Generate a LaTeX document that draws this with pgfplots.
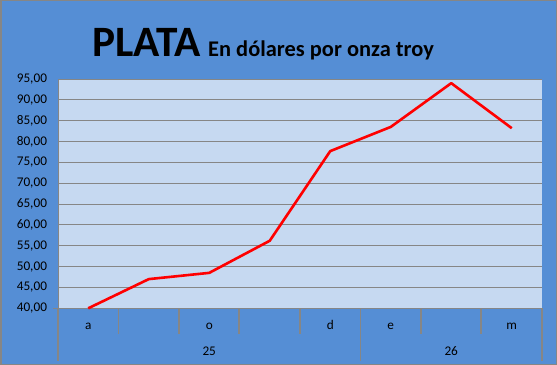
\documentclass[border=0pt]{standalone}
\usepackage{pgfplots}
\pgfplotsset{compat=1.18}
\usepackage{fontspec}
\setmainfont{Carlito}
\definecolor{bgblue}{RGB}{85,142,213}
\definecolor{plotblue}{RGB}{198,217,241}
\definecolor{gridgray}{RGB}{134,134,134}
\begin{document}
\begin{tikzpicture}
\fill[bgblue] (0,0) rectangle (557bp,365bp);
\draw[gridgray, line width=1.5bp] (0.75bp,0.75bp) rectangle (556.25bp,364.25bp);
\begin{axis}[
  at={(58bp,56.7bp)}, anchor=south west,
  scale only axis, width=484bp, height=229.3bp,
  xmin=-0.5, xmax=7.5, ymin=40, ymax=95,
  ytick={40,45,...,95},
  xtick={0,...,7},
  xticklabels={a,,o,,d,e,,m},
  major tick length=0pt,
  axis background/.style={fill=plotblue},
  ymajorgrids,
  grid style={gridgray, line width=0.9bp},
  axis line style={draw=none},
  clip=false,
  tick label style={font=\fontsize{13.3}{13.3}\selectfont, text=black},
  yticklabel style={xshift=-7.5bp, /pgf/number format/.cd, fixed, fixed zerofill, precision=2, use comma, assume math mode=true},
  xticklabel style={anchor=base, yshift=-21bp},
]
\draw[gridgray, line width=0.9bp] (axis cs:-0.5,40) -- (axis cs:-0.5,95);
\draw[gridgray, line width=0.9bp] (axis cs:-0.5,40) -- ++(-5bp,0bp);
\draw[gridgray, line width=1.2bp] (axis cs:0.5,40) -- (axis cs:0.5,33.75);
\draw[gridgray, line width=1.2bp] (axis cs:1.5,40) -- (axis cs:1.5,33.75);
\draw[gridgray, line width=1.5bp] (axis cs:2.49,40) -- (axis cs:2.49,33.75);
\draw[gridgray, line width=1.2bp] (axis cs:3.5,40) -- (axis cs:3.5,33.75);
\draw[gridgray, line width=1.2bp] (axis cs:5.5,40) -- (axis cs:5.5,33.75);
\draw[gridgray, line width=1.5bp] (axis cs:6.49,40) -- (axis cs:6.49,33.75);
\draw[gridgray, line width=1.2bp] (axis cs:-0.5,40) -- (axis cs:-0.5,27.3);
\draw[gridgray, line width=1.2bp] (axis cs:4.5,40) -- (axis cs:4.5,27.3);
\draw[gridgray, line width=1.2bp] (axis cs:7.5,40) -- (axis cs:7.5,27.3);
\addplot[red, line width=2.6bp, line join=round] coordinates {
  (0,40.0) (1,47.0) (2,48.5) (3,56.2) (4,77.7) (5,83.5) (6,94.0) (7,83.2)
};
\node[anchor=base, yshift=-47bp, font=\fontsize{13.3}{13.3}\selectfont] at (axis cs:2,40) {25};
\node[anchor=base, yshift=-47bp, font=\fontsize{13.3}{13.3}\selectfont] at (axis cs:6,40) {26};
\end{axis}
\node[anchor=base west, inner sep=0] at (92bp,308.3bp) {\fontsize{43.5}{43.5}\selectfont\bfseries PLATA};
\node[anchor=base west, inner sep=0] at (208bp,308.3bp) {\fontsize{22.5}{22.5}\selectfont\bfseries En dólares por onza troy};
\end{tikzpicture}
\end{document}
